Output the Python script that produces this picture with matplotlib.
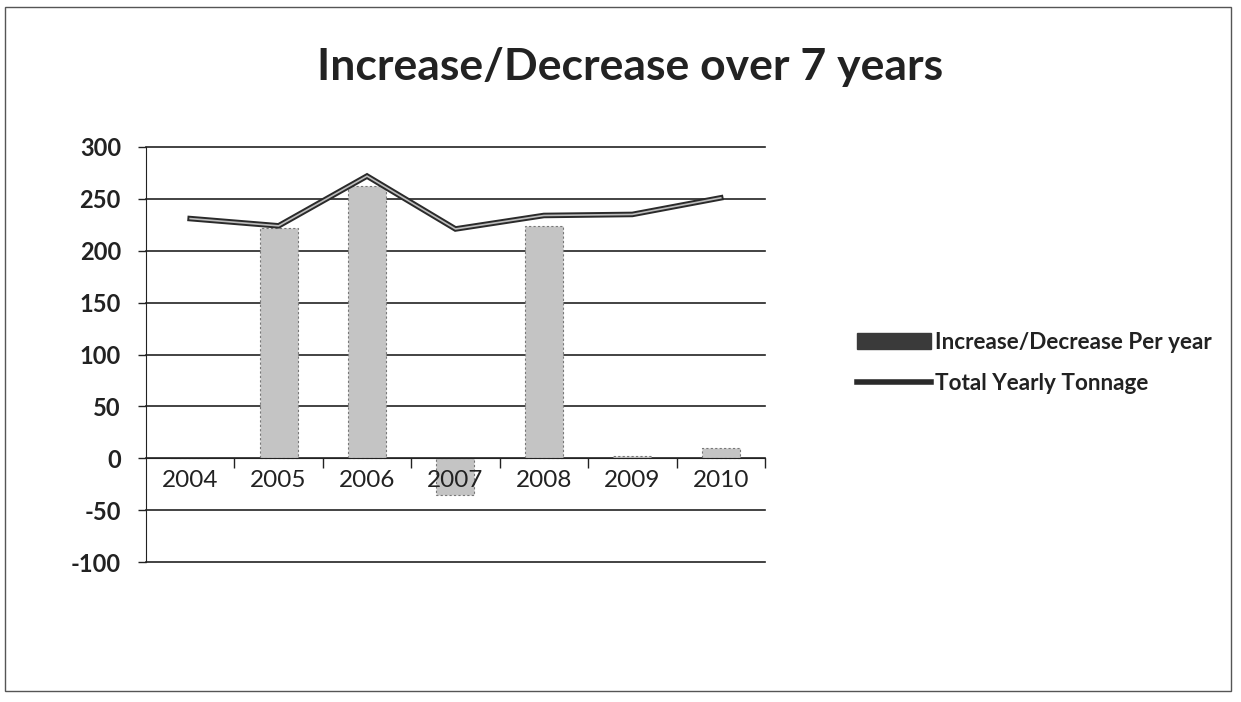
import matplotlib
matplotlib.use("Agg")
import matplotlib.pyplot as plt
from matplotlib.lines import Line2D
from matplotlib.patches import Patch, Rectangle

years = ["2004", "2005", "2006", "2007", "2008", "2009", "2010"]
change_per_year = [0, 222, 262, -35, 224, 2, 10]
total_tonnage = [231, 224, 272, 221, 234, 235, 251]
y_ticks = [-100, -50, 0, 50, 100, 150, 200, 250, 300]

FONT = "Lato"
fig = plt.figure(figsize=(12.41, 7.02), dpi=100)
fig.patch.set_facecolor("white")

# outer chart frame
fig.add_artist(Rectangle((0.004, 0.015), 0.988, 0.975, transform=fig.transFigure,
                         fill=False, edgecolor="#555555", linewidth=1.0))

ax = fig.add_axes([0.1176, 0.1994, 0.4988, 0.5912])
x = list(range(len(years)))

for v in y_ticks:
    ax.axhline(v, color="#222222", linewidth=1.2, zorder=1, clip_on=False)

ax.bar(x, change_per_year, width=0.43, color="#c4c4c4", edgecolor="#777777",
       linewidth=0.8, linestyle=(0, (2, 2)), zorder=2)

ax.plot(x, total_tonnage, color="#2a2a2a", linewidth=4.0, zorder=3,
        solid_joinstyle="miter")
ax.plot(x, total_tonnage, color="#bdbdbd", linewidth=1.2, zorder=4)

ax.set_xlim(-0.5, len(years) - 0.5)
ax.set_ylim(-100, 300)
ax.set_yticks(y_ticks)
ax.set_yticklabels([str(v) for v in y_ticks], fontsize=17, fontweight="bold",
                   family=FONT, color="#222222")
ax.tick_params(axis="y", direction="out", length=6, width=1, pad=12, colors="#222222")

ax.spines["top"].set_visible(False)
ax.spines["right"].set_visible(False)
ax.spines["bottom"].set_position(("data", 0))
ax.spines["left"].set_color("#222222")
ax.spines["bottom"].set_color("#222222")

ax.set_xticks([i + 0.5 for i in x])
ax.set_xticklabels([])
ax.tick_params(axis="x", direction="out", length=7, width=1, colors="#222222")
for i, yr in enumerate(years):
    ax.text(i, -21, yr, ha="center", va="center", fontsize=17.5, family=FONT,
            color="#222222", zorder=5)

fig.text(0.508, 0.905, "Increase/Decrease over 7 years", ha="center", va="center",
         fontsize=32, fontweight="bold", family=FONT, color="#222222")

handles = [Patch(facecolor="#3a3a3a", edgecolor="#3a3a3a"),
           Line2D([0], [0], color="#2a2a2a", linewidth=4)]
leg = fig.legend(handles, ["Increase/Decrease Per year", "Total Yearly Tonnage"],
                 loc="upper left", bbox_to_anchor=(0.674, 0.556), frameon=False,
                 handlelength=3.3, handletextpad=0.2, labelspacing=0.9,
                 prop={"family": FONT, "size": 16.2, "weight": "bold"})
for t in leg.get_texts():
    t.set_color("#222222")

fig.savefig("out.png", dpi=100, facecolor="white")
